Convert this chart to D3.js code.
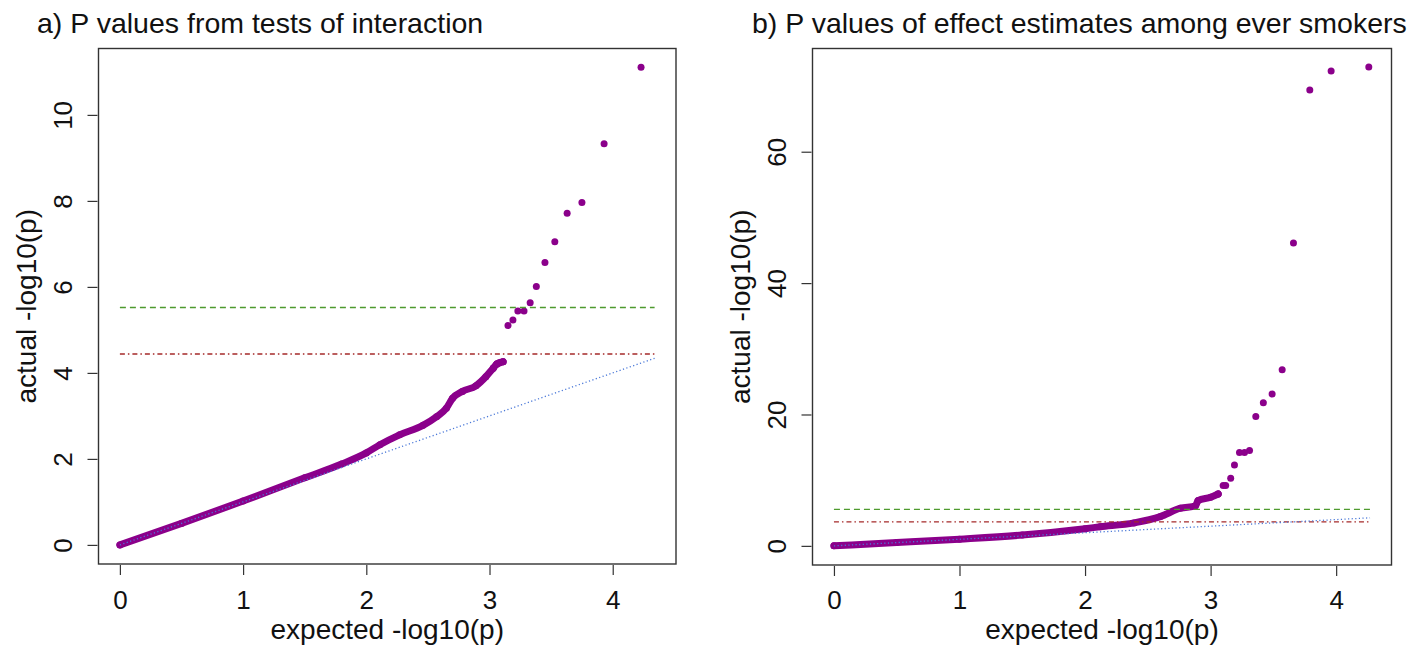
<!DOCTYPE html>
<html>
<head>
<meta charset="utf-8">
<script src="https://cdn.jsdelivr.net/npm/d3@7"></script>
<style>
  body { margin: 0; background: #fff; }
  svg { font-family: "Liberation Sans", Arial, sans-serif; }
</style>
</head>
<body>
<svg id="chart" width="1428" height="651"></svg>
<script>
// values: expected vs actual -log10(p)

// panel a: tests of interaction
var titleA = "a) P values from tests of interaction";
var xTicksA = [0, 1, 2, 3, 4];
var yTicksA = [0, 2, 4, 6, 8, 10];
var bandXA = [0, 0.5, 1.0, 1.5, 1.8, 2.0, 2.11, 2.27, 2.46, 2.57, 2.65, 2.70, 2.78, 2.89, 2.97, 3.03, 3.06, 3.11];
var bandYA = [0, 0.5, 1.02, 1.56, 1.88, 2.14, 2.33, 2.56, 2.78, 2.98, 3.18, 3.41, 3.57, 3.70, 3.91, 4.11, 4.21, 4.26];
var tailXA = [3.03, 3.06, 3.08, 3.11, 3.15, 3.19, 3.23, 3.28, 3.33, 3.38, 3.45, 3.53, 3.63, 3.75, 3.93, 4.23];
var tailYA = [4.11, 4.20, 4.23, 4.26, 5.10, 5.23, 5.44, 5.44, 5.63, 6.01, 6.57, 7.05, 7.71, 7.96, 9.33, 11.11];
var bonfA = 5.52, fdrA = 4.44, xMaxA = 4.34, yMaxA = 11.1;

// panel b: effect estimates among ever smokers
var titleB = "b) P values of effect estimates among ever smokers";
var xTicksB = [0, 1, 2, 3, 4];
var yTicksB = [0, 20, 40, 60];
var bandXB = [0, 0.5, 1.0, 1.5, 2.0, 2.12, 2.39, 2.60, 2.76, 2.88, 2.90, 3.0, 3.06];
var bandYB = [0, 0.5, 1.02, 1.65, 2.62, 2.9, 3.5, 4.46, 5.73, 6.09, 6.9, 7.4, 7.9];
var tailXB = [3.06, 3.10, 3.12, 3.16, 3.19, 3.23, 3.27, 3.31, 3.36, 3.42, 3.49, 3.57, 3.66, 3.79, 3.96, 4.26];
var tailYB = [7.9, 9.2, 9.2, 10.3, 12.3, 14.2, 14.2, 14.5, 19.7, 21.8, 23.1, 26.8, 46.1, 69.4, 72.3, 72.9];
var bonfB = 5.55, fdrB = 3.65, xMaxB = 4.27, yMaxB = 72.8;

var xLabel = "expected -log10(p)";
var yLabel = "actual -log10(p)";

var svg = d3.select("#chart");
var purple = "#8b008b";

function panel(o) {
  var g = svg.append("g");

  // R style 4% padding around the data range
  var x = d3.scaleLinear()
    .domain([-0.04 * o.xMax, 1.04 * o.xMax])
    .range([o.left, o.right]);
  var y = d3.scaleLinear()
    .domain([-0.04 * o.yMax, 1.04 * o.yMax])
    .range([o.bottom, o.top]);

  // title
  g.append("text")
    .attr("x", o.titleX)
    .attr("y", 33)
    .attr("font-size", 28.5)
    .attr("fill", "#111")
    .text(o.title);

  // axes
  var xAxis = d3.axisBottom(x).tickValues(o.xTicks).tickSize(10).tickFormat(d3.format("d"));
  var gx = g.append("g").attr("transform", "translate(0," + (o.bottom + 1) + ")").call(xAxis);

  var yAxis = d3.axisLeft(y).tickValues(o.yTicks).tickSize(10).tickFormat(d3.format("d"));
  var gy = g.append("g").attr("transform", "translate(" + (o.left - 1) + ",0)").call(yAxis);

  [gx, gy].forEach(function(a) {
    a.select(".domain").remove();
    a.selectAll("line").attr("stroke", "#333").attr("stroke-width", 1.2);
    a.selectAll("text").attr("font-size", 26).attr("fill", "#111")
      .attr("font-family", "Liberation Sans, Arial, sans-serif");
  });

  // x tick labels sit on a fixed baseline
  gx.selectAll(".tick text")
    .attr("dy", null)
    .attr("y", 609 - (o.bottom + 1));

  // y tick labels rotated like R's default las=0
  gy.selectAll(".tick text")
    .attr("x", null).attr("dy", null)
    .attr("text-anchor", "middle")
    .attr("transform", "translate(-26,0) rotate(-90)");

  // axis titles
  g.append("text")
    .attr("x", (o.left + o.right) / 2)
    .attr("y", 639)
    .attr("text-anchor", "middle")
    .attr("font-size", 28)
    .attr("fill", "#111")
    .text(xLabel);

  g.append("text")
    .attr("transform", "translate(" + (o.left - 63) + "," + ((o.top + o.bottom) / 2) + ") rotate(-90)")
    .attr("text-anchor", "middle")
    .attr("font-size", 28)
    .attr("fill", "#111")
    .text(yLabel);

  // the dense part of the qq curve
  var band = o.bandX.map(function(d, i) { return [d, o.bandY[i]]; });
  var line = d3.line().curve(d3.curveMonotoneX)
    .x(function(d) { return x(d[0]); })
    .y(function(d) { return y(d[1]); });

  g.append("path")
    .datum(band)
    .attr("d", line)
    .attr("fill", "none")
    .attr("stroke", purple)
    .attr("stroke-width", 7)
    .attr("stroke-linecap", "round")
    .attr("stroke-linejoin", "round");

  var tail = o.tailX.map(function(d, i) { return [d, o.tailY[i]]; });
  g.selectAll("circle.pt")
    .data(band.concat(tail))
    .enter()
    .append("circle")
    .attr("class", "pt")
    .attr("cx", function(d) { return x(d[0]); })
    .attr("cy", function(d) { return y(d[1]); })
    .attr("r", 3.5)
    .attr("fill", purple);

  // reference lines on top of the points
  g.append("line")
    .attr("x1", x(0)).attr("x2", x(o.xMax))
    .attr("y1", y(o.bonf)).attr("y2", y(o.bonf))
    .attr("stroke", "#4e9a2e").attr("stroke-width", 1.4)
    .attr("stroke-dasharray", "6,4");

  g.append("line")
    .attr("x1", x(0)).attr("x2", x(o.xMax))
    .attr("y1", y(o.fdr)).attr("y2", y(o.fdr))
    .attr("stroke", "#a52a2a").attr("stroke-width", 1.3)
    .attr("stroke-dasharray", "5,3,1.5,3");

  g.append("line")
    .attr("x1", x(0)).attr("x2", x(o.xMax))
    .attr("y1", y(0)).attr("y2", y(o.xMax))
    .attr("stroke", "#4a78d8").attr("stroke-width", 1.3)
    .attr("stroke-dasharray", "1.2,2.4");

  // box
  g.append("rect")
    .attr("x", o.left).attr("y", o.top)
    .attr("width", o.right - o.left).attr("height", o.bottom - o.top)
    .attr("fill", "none")
    .attr("stroke", "#333")
    .attr("stroke-width", 1.4);
}

panel({
  title: titleA, titleX: 37,
  left: 98.5, right: 676, top: 48.5, bottom: 564,
  xMax: xMaxA, yMax: yMaxA, xTicks: xTicksA, yTicks: yTicksA,
  bandX: bandXA, bandY: bandYA, tailX: tailXA, tailY: tailYA,
  bonf: bonfA, fdr: fdrA
});

panel({
  title: titleB, titleX: 752,
  left: 812.5, right: 1391.5, top: 48.5, bottom: 565,
  xMax: xMaxB, yMax: yMaxB, xTicks: xTicksB, yTicks: yTicksB,
  bandX: bandXB, bandY: bandYB, tailX: tailXB, tailY: tailYB,
  bonf: bonfB, fdr: fdrB
});
</script>
</body>
</html>
